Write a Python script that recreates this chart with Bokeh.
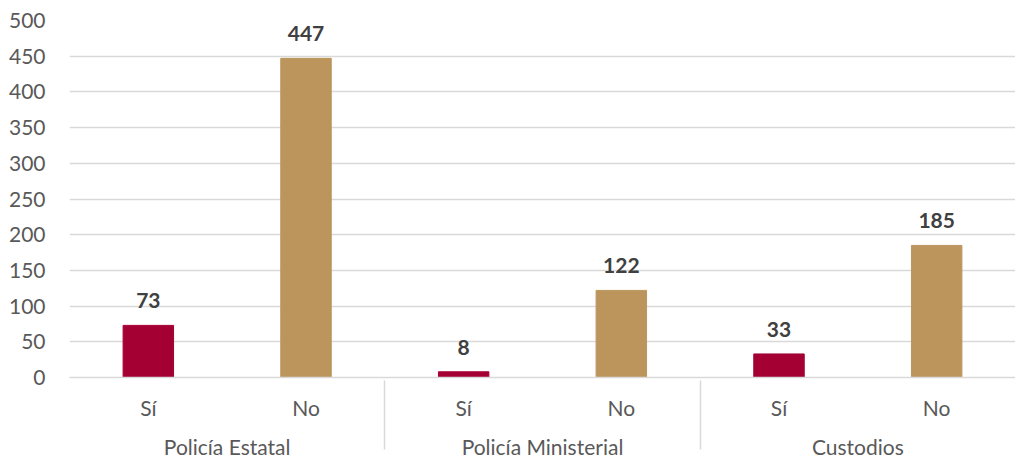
from bokeh.plotting import figure
from bokeh.models import FactorRange, ColumnDataSource, SingleIntervalTicker
from bokeh.core.properties import value
from bokeh.embed import file_html
from bokeh.resources import INLINE

groups = ["Policía Estatal", "Policía Ministerial", "Custodios"]
answers = ["Sí", "No"]
values_si = [73, 8, 33]
values_no = [447, 122, 185]
colors = {"Sí": "#A50034", "No": "#BC955C"}

factors = []
vals = []
cols = []
for g, s, n in zip(groups, values_si, values_no):
    for a, v in zip(answers, [s, n]):
        factors.append((g, a))
        vals.append(v)
        cols.append(colors[a])

src = ColumnDataSource(dict(x=factors, top=vals, color=cols, label=[str(v) for v in vals]))

FONT = "Lato"
FS = "21px"

xr = FactorRange(*factors, factor_padding=0, group_padding=0, range_padding=0)
p = figure(x_range=xr, y_range=(0, 500), width=1015, height=461,
           output_backend="svg", toolbar_location=None,
           min_border_left=69, min_border_right=0, min_border_top=20, min_border_bottom=0)
p.outline_line_color = None
p.background_fill_color = "white"

p.vbar(x="x", top="top", width=0.32, color="color", source=src)
p.text(x="x", y="top", text="label", source=src, y_offset=-17,
       text_align="center", text_baseline="bottom",
       text_font=value(FONT), text_font_style="bold", text_font_size=FS,
       text_color="#404040")

p.yaxis.ticker = SingleIntervalTicker(interval=50)
p.yaxis.axis_line_color = None
p.yaxis.major_tick_line_color = None
p.yaxis.minor_tick_line_color = None
p.yaxis.major_label_text_font = FONT
p.yaxis.major_label_text_font_size = FS
p.yaxis.major_label_text_color = "#595959"
p.yaxis.major_label_standoff = 18

p.ygrid.grid_line_color = "#D9D9D9"
p.ygrid.grid_line_width = 1.5
p.xgrid.grid_line_color = None

ax = p.xaxis[0]
ax.axis_line_color = "#D9D9D9"
ax.axis_line_width = 1.5
ax.major_tick_line_color = None
ax.minor_tick_line_color = None
ax.major_label_text_font = FONT
ax.major_label_text_font_size = FS
ax.major_label_text_color = "#595959"
ax.group_text_font = FONT
ax.group_text_font_size = FS
ax.group_text_color = "#595959"
ax.group_text_font_style = "normal"
ax.separator_line_color = "#D9D9D9"
ax.separator_line_width = 1.5
ax.major_label_standoff = 11

open("out.html", "w").write(file_html(p, INLINE))
